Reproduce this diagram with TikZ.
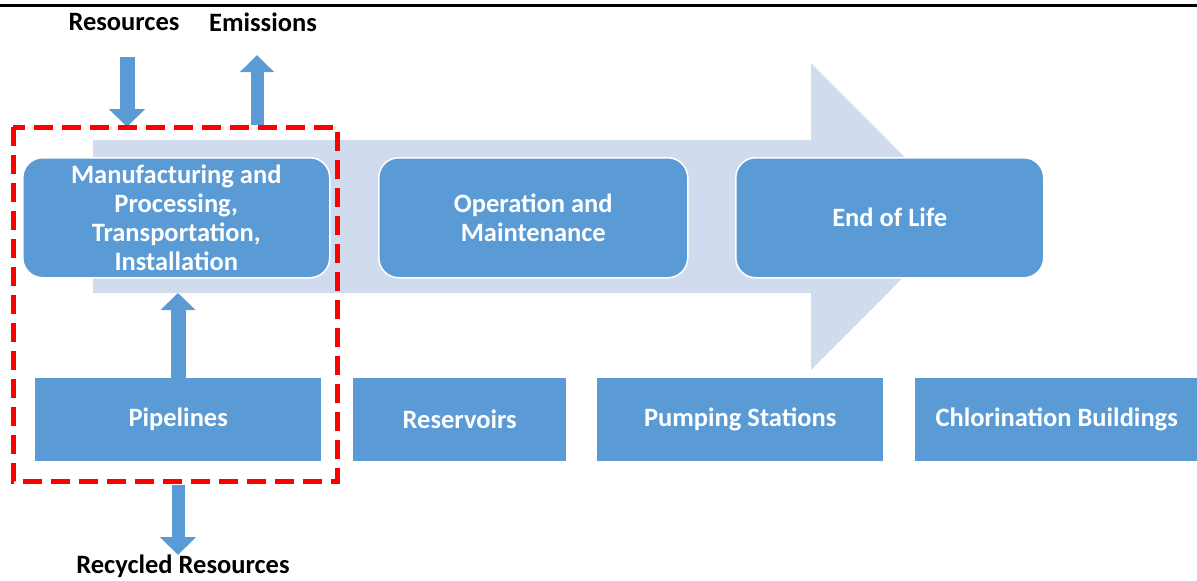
\documentclass[tikz,border=0pt]{standalone}
\usepackage{fontspec}
\setmainfont{Carlito}
\usetikzlibrary{arrows.meta}
\definecolor{boxblue}{HTML}{5B9BD5}
\definecolor{flowblue}{HTML}{D0DCEE}
\definecolor{dashred}{HTML}{FF0000}
\tikzset{
  stagebox/.style={fill=boxblue, draw=white, line width=1.5pt, rounded corners=20pt, text=white, font=\fontsize{26.5}{29}\selectfont\bfseries, align=center, inner sep=0pt, anchor=north west},
  assetbox/.style={fill=boxblue, draw=none, text=white, font=\fontsize{26.5}{29}\selectfont\bfseries, align=center, inner sep=0pt, anchor=north west},
  extlabel/.style={text=black, font=\fontsize{26.5}{29}\selectfont\bfseries, inner sep=0pt},
  flowarrow/.style={draw=boxblue, line width=14pt, -{Triangle[width=35pt,length=18pt]}},
  scopebox/.style={draw=dashred, line width=5pt, dash pattern=on 19pt off 9pt}
}
\begin{document}
\begin{tikzpicture}[x=1pt,y=-1pt]
\useasboundingbox (0,0) rectangle (1197,581);
% top rule
\draw[line width=3pt] (0,5) -- (1197,5);
% big background arrow
\fill[flowblue] (93,140) -- (811,140) -- (811,63) -- (964,216.5) -- (811,370) -- (811,293) -- (93,293) -- cycle;
% stage boxes
\node[stagebox, minimum width=307pt, minimum height=120pt] (mfg) at (22,157) {Manufacturing and\\Processing,\\Transportation,\\Installation};
\node[stagebox, minimum width=309pt, minimum height=120pt] (om) at (378,157) {Operation and\\Maintenance};
\node[stagebox, minimum width=308pt, minimum height=120pt] (eol) at (735,157) {End of Life};
% asset boxes
\node[assetbox, minimum width=286pt, minimum height=83pt] (pipe) at (35,378) {Pipelines};
\node[assetbox, minimum width=213pt, minimum height=83pt] (res) at (353,378) {Reservoirs};
\node[assetbox, minimum width=286pt, minimum height=83pt] (pump) at (597,378) {Pumping Stations};
\node[assetbox, minimum width=283pt, minimum height=83pt] (chl) at (915,378) {Chlorination Buildings};
% external labels
\node[extlabel] (lres) at (124,22) {Resources};
\node[extlabel] (lemi) at (263,22) {Emissions};
\node[extlabel] (lrec) at (183,566) {Recycled Resources};
% arrow end points
\coordinate (resA) at (127,57);
\coordinate (resB) at (127,127);
\coordinate (emiA) at (257,125);
\coordinate (emiB) at (257,55);
\coordinate (pipB) at (178,293);
\coordinate (recA) at (178,485);
\coordinate (recB) at (178,555);
\draw[flowarrow, line width=15pt] (resA) -- (resB);
\draw[flowarrow, line width=13pt, -{Triangle[width=33pt,length=17pt]}] (emiA) -- (emiB);
\draw[flowarrow, line width=15pt, -{Triangle[width=34pt,length=17pt]}] (pipe.north -| pipB) -- (pipB);
\draw[flowarrow, line width=13pt] (recA) -- (recB);
% scope box
\draw[scopebox] (13,127) rectangle (337,481);
\end{tikzpicture}
\end{document}
